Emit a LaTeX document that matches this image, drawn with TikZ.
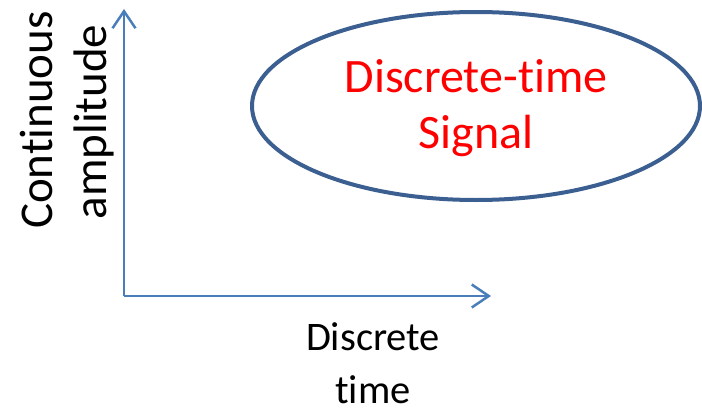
\documentclass[tikz,border=0pt]{standalone}
\usepackage{fontspec}
\setmainfont{Carlito}[Ligatures={NoCommon}]
\usepackage{tikz}
\usetikzlibrary{arrows.meta,shapes.geometric}
\tikzset{>={Straight Barb[length=17pt,width=23pt]}}
\definecolor{axisblue}{RGB}{74,126,187}
\definecolor{rimblue}{RGB}{60,95,145}
\tikzset{lbl/.style={font=\fontsize{40.5}{53}\selectfont, inner sep=0pt, anchor=base},
  axislbl/.style={lbl, font=\fontsize{47}{56}\selectfont, rotate=90},
  siglbl/.style={lbl, font=\fontsize{48}{56}\selectfont, text=red}}

\begin{document}
\begin{tikzpicture}[x=1pt,y=-1pt]
    \useasboundingbox (0,0) rectangle (702,415);
    \coordinate (o) at (124,296);
    \coordinate (ytip) at (124,9);
    \coordinate (xtip) at (491,296);
    \draw [->, axisblue, line width=2.5pt] (o) -- (ytip);
    \draw [->, axisblue, line width=2.5pt] (o) -- (xtip);
    \node [draw=rimblue, line width=4pt, ellipse, minimum width=448pt, minimum height=188pt, inner sep=0pt] (sig) at (476,106) {};
    \node [siglbl] (sig1) at (476,92) {Discrete-time};
    \node [siglbl] (sig2) at (476,148) {Signal};
    \node [axislbl] (cont) at (52,120) {Continuous};
    \node [axislbl] (ampl) at (106,122) {amplitude};
    \node [lbl] (disc) at (373,350) {Discrete};
    \node [lbl] (time) at (373,403) {time};
  \end{tikzpicture}
\end{document}
